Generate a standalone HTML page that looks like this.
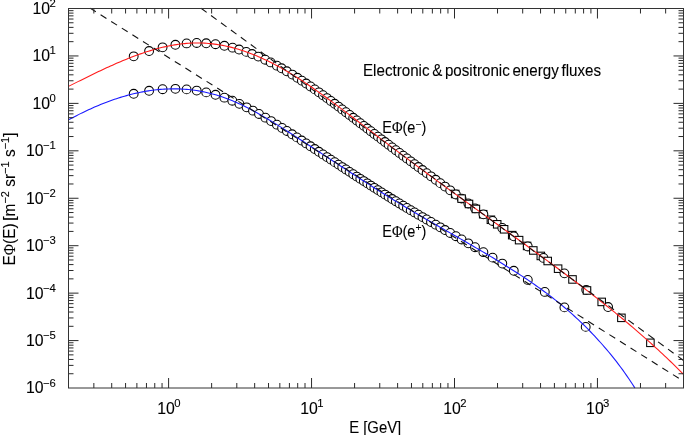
<!DOCTYPE html>
<html><head><meta charset="utf-8"><style>
html,body{margin:0;padding:0;background:#fff;}
svg{display:block;will-change:transform;}
text{font-family:"Liberation Sans",sans-serif;font-size:15.8px;fill:#000;stroke:#000;stroke-width:0.1px;}
</style></head><body>
<svg width="685" height="435" viewBox="0 0 685 435">
<rect x="0" y="0" width="685" height="435" fill="#fff"/>
<g fill="#fff" stroke="#000" stroke-width="1.05">
<circle cx="133.70" cy="93.77" r="4.4"/><circle cx="149.10" cy="90.75" r="4.4"/><circle cx="162.60" cy="89.24" r="4.4"/><circle cx="175.40" cy="88.85" r="4.4"/><circle cx="186.60" cy="89.39" r="4.4"/><circle cx="196.70" cy="90.59" r="4.4"/><circle cx="206.20" cy="92.39" r="4.4"/><circle cx="215.50" cy="94.77" r="4.4"/><circle cx="224.40" cy="97.67" r="4.4"/><circle cx="232.30" cy="100.73" r="4.4"/><circle cx="239.40" cy="103.86" r="4.4"/><circle cx="246.60" cy="107.35" r="4.4"/><circle cx="253.00" cy="110.68" r="4.4"/><circle cx="259.00" cy="113.99" r="4.4"/><circle cx="265.40" cy="117.68" r="4.4"/><circle cx="271.10" cy="121.08" r="4.4"/><circle cx="276.90" cy="124.65" r="4.4"/><circle cx="282.10" cy="127.90" r="4.4"/><circle cx="286.90" cy="130.96" r="4.4"/><circle cx="292.10" cy="134.29" r="4.4"/><circle cx="296.90" cy="137.39" r="4.4"/><circle cx="301.70" cy="140.51" r="4.4"/><circle cx="306.20" cy="143.44" r="4.4"/><circle cx="310.53" cy="146.26" r="4.4"/><circle cx="314.77" cy="149.04" r="4.4"/><circle cx="318.92" cy="151.76" r="4.4"/><circle cx="322.99" cy="154.43" r="4.4"/><circle cx="326.97" cy="157.05" r="4.4"/><circle cx="330.87" cy="159.61" r="4.4"/><circle cx="334.70" cy="162.13" r="4.4"/><circle cx="338.49" cy="164.61" r="4.4"/><circle cx="342.23" cy="167.06" r="4.4"/><circle cx="345.93" cy="169.48" r="4.4"/><circle cx="349.58" cy="171.87" r="4.4"/><circle cx="353.20" cy="174.23" r="4.4"/><circle cx="356.77" cy="176.55" r="4.4"/><circle cx="360.30" cy="178.84" r="4.4"/><circle cx="363.80" cy="181.09" r="4.4"/><circle cx="367.31" cy="183.35" r="4.4"/><circle cx="370.83" cy="185.60" r="4.4"/><circle cx="374.36" cy="187.85" r="4.4"/><circle cx="377.90" cy="190.09" r="4.4"/><circle cx="381.45" cy="192.33" r="4.4"/><circle cx="385.02" cy="194.56" r="4.4"/><circle cx="388.59" cy="196.79" r="4.4"/><circle cx="392.18" cy="199.01" r="4.4"/><circle cx="395.80" cy="201.23" r="4.4"/><circle cx="399.46" cy="203.45" r="4.4"/><circle cx="403.17" cy="205.69" r="4.4"/><circle cx="406.92" cy="207.93" r="4.4"/><circle cx="410.71" cy="210.18" r="4.4"/><circle cx="414.55" cy="212.44" r="4.4"/><circle cx="418.43" cy="214.72" r="4.4"/><circle cx="422.46" cy="217.06" r="4.4"/><circle cx="426.65" cy="219.48" r="4.4"/><circle cx="431.00" cy="221.99" r="4.4"/><circle cx="435.70" cy="224.69" r="4.4"/><circle cx="440.30" cy="227.32" r="4.4"/><circle cx="445.00" cy="230.00" r="4.4"/><circle cx="450.20" cy="232.97" r="4.4"/><circle cx="455.90" cy="236.23" r="4.4"/><circle cx="461.60" cy="239.49" r="4.4"/><circle cx="468.30" cy="243.35" r="4.4"/><circle cx="475.00" cy="247.23" r="4.4"/><circle cx="483.40" cy="252.16" r="4.4"/><circle cx="492.60" cy="257.64" r="4.4"/><circle cx="502.30" cy="263.55" r="4.4"/><circle cx="513.80" cy="270.76" r="4.4"/><circle cx="527.80" cy="279.93" r="4.4"/><circle cx="544.80" cy="291.92" r="4.4"/><circle cx="564.40" cy="307.39" r="4.4"/><circle cx="585.70" cy="326.89" r="4.4"/>
<circle cx="133.70" cy="56.34" r="4.4"/><circle cx="149.10" cy="51.03" r="4.4"/><circle cx="162.60" cy="47.32" r="4.4"/><circle cx="175.40" cy="44.77" r="4.4"/><circle cx="186.60" cy="43.41" r="4.4"/><circle cx="196.70" cy="42.97" r="4.4"/><circle cx="206.20" cy="43.27" r="4.4"/><circle cx="215.50" cy="44.24" r="4.4"/><circle cx="224.40" cy="45.76" r="4.4"/><circle cx="232.60" cy="47.67" r="4.4"/><circle cx="239.10" cy="49.52" r="4.4"/><circle cx="246.30" cy="51.89" r="4.4"/><circle cx="252.10" cy="54.05" r="4.4"/><circle cx="258.30" cy="56.60" r="4.4"/><circle cx="265.20" cy="59.71" r="4.4"/><circle cx="270.70" cy="62.40" r="4.4"/><circle cx="276.90" cy="65.65" r="4.4"/><circle cx="281.60" cy="68.25" r="4.4"/><circle cx="286.80" cy="71.26" r="4.4"/><circle cx="292.30" cy="74.58" r="4.4"/><circle cx="297.40" cy="77.77" r="4.4"/><circle cx="301.90" cy="80.68" r="4.4"/><circle cx="306.20" cy="83.53" r="4.4"/><circle cx="310.53" cy="86.46" r="4.4"/><circle cx="314.77" cy="89.39" r="4.4"/><circle cx="318.92" cy="92.30" r="4.4"/><circle cx="322.99" cy="95.21" r="4.4"/><circle cx="326.97" cy="98.09" r="4.4"/><circle cx="330.87" cy="100.95" r="4.4"/><circle cx="334.70" cy="103.78" r="4.4"/><circle cx="338.49" cy="106.60" r="4.4"/><circle cx="342.23" cy="109.41" r="4.4"/><circle cx="345.93" cy="112.21" r="4.4"/><circle cx="349.58" cy="114.99" r="4.4"/><circle cx="353.20" cy="117.75" r="4.4"/><circle cx="356.77" cy="120.48" r="4.4"/><circle cx="360.30" cy="123.18" r="4.4"/><circle cx="363.80" cy="125.86" r="4.4"/><circle cx="367.31" cy="128.54" r="4.4"/><circle cx="370.83" cy="131.23" r="4.4"/><circle cx="374.36" cy="133.93" r="4.4"/><circle cx="377.90" cy="136.62" r="4.4"/><circle cx="381.45" cy="139.32" r="4.4"/><circle cx="385.02" cy="142.02" r="4.4"/><circle cx="388.59" cy="144.73" r="4.4"/><circle cx="392.18" cy="147.43" r="4.4"/><circle cx="395.80" cy="150.15" r="4.4"/><circle cx="399.46" cy="152.90" r="4.4"/><circle cx="403.17" cy="155.68" r="4.4"/><circle cx="406.92" cy="158.48" r="4.4"/><circle cx="410.71" cy="161.31" r="4.4"/><circle cx="414.55" cy="164.16" r="4.4"/><circle cx="418.43" cy="167.04" r="4.4"/><circle cx="422.46" cy="170.02" r="4.4"/><circle cx="426.65" cy="173.11" r="4.4"/><circle cx="431.00" cy="176.32" r="4.4"/><circle cx="435.70" cy="179.77" r="4.4"/><circle cx="440.30" cy="183.13" r="4.4"/><circle cx="445.00" cy="186.56" r="4.4"/><circle cx="450.20" cy="190.35" r="4.4"/><rect x="451.45" y="190.23" width="7.50" height="7.50"/><circle cx="455.90" cy="194.49" r="4.4"/><circle cx="461.60" cy="198.62" r="4.4"/><rect x="457.85" y="194.87" width="7.50" height="7.50"/><circle cx="468.30" cy="203.47" r="4.4"/><rect x="465.25" y="200.22" width="7.50" height="7.50"/><circle cx="475.00" cy="208.30" r="4.4"/><rect x="472.15" y="205.20" width="7.50" height="7.50"/><rect x="479.45" y="210.47" width="7.50" height="7.50"/><circle cx="483.40" cy="214.36" r="4.4"/><rect x="487.15" y="216.02" width="7.50" height="7.50"/><circle cx="492.60" cy="220.99" r="4.4"/><rect x="493.45" y="220.56" width="7.50" height="7.50"/><circle cx="502.30" cy="227.99" r="4.4"/><rect x="500.35" y="225.54" width="7.50" height="7.50"/><rect x="508.45" y="231.39" width="7.50" height="7.50"/><circle cx="513.80" cy="236.30" r="4.4"/><rect x="515.35" y="236.38" width="7.50" height="7.50"/><rect x="523.35" y="242.19" width="7.50" height="7.50"/><circle cx="527.80" cy="246.45" r="4.4"/><rect x="529.55" y="246.71" width="7.50" height="7.50"/><rect x="537.05" y="252.19" width="7.50" height="7.50"/><circle cx="543.50" cy="257.92" r="4.4"/><rect x="543.95" y="257.25" width="7.50" height="7.50"/><rect x="554.35" y="264.93" width="7.50" height="7.50"/><circle cx="564.40" cy="273.37" r="4.4"/><rect x="568.75" y="275.69" width="7.50" height="7.50"/><circle cx="586.20" cy="289.85" r="4.4"/><rect x="583.25" y="286.71" width="7.50" height="7.50"/><rect x="597.95" y="298.17" width="7.50" height="7.50"/><circle cx="608.10" cy="307.01" r="4.4"/><rect x="617.65" y="314.09" width="7.50" height="7.50"/><rect x="646.65" y="339.08" width="7.50" height="7.50"/>
</g>
<path d="M68.50,86.37 L70.50,85.37 L72.50,84.37 L74.50,83.37 L76.50,82.38 L78.50,81.38 L80.50,80.39 L82.50,79.40 L84.50,78.41 L86.50,77.42 L88.50,76.44 L90.50,75.46 L92.50,74.49 L94.50,73.52 L96.50,72.56 L98.50,71.60 L100.50,70.65 L102.50,69.71 L104.50,68.78 L106.50,67.85 L108.50,66.93 L110.50,66.03 L112.50,65.13 L114.50,64.24 L116.50,63.36 L118.50,62.50 L120.50,61.64 L122.50,60.80 L124.50,59.97 L126.50,59.16 L128.50,58.36 L130.50,57.57 L132.50,56.80 L134.50,56.04 L136.50,55.30 L138.50,54.58 L140.50,53.87 L142.50,53.18 L144.50,52.50 L146.50,51.85 L148.50,51.22 L150.50,50.60 L152.50,50.00 L154.50,49.43 L156.50,48.87 L158.50,48.34 L160.50,47.83 L162.50,47.34 L164.50,46.88 L166.50,46.44 L168.50,46.02 L170.50,45.62 L172.50,45.26 L174.50,44.91 L176.50,44.60 L178.50,44.30 L180.50,44.04 L182.50,43.81 L184.50,43.60 L186.50,43.42 L188.50,43.27 L190.50,43.15 L192.50,43.06 L194.50,43.00 L196.50,42.97 L198.50,42.97 L200.50,43.00 L202.50,43.07 L204.50,43.17 L206.50,43.29 L208.50,43.45 L210.50,43.64 L212.50,43.86 L214.50,44.10 L216.50,44.38 L218.50,44.69 L220.50,45.03 L222.50,45.39 L224.50,45.79 L226.50,46.21 L228.50,46.66 L230.50,47.14 L232.50,47.65 L234.50,48.18 L236.50,48.74 L238.50,49.33 L240.50,49.95 L242.50,50.59 L244.50,51.26 L246.50,51.96 L248.50,52.68 L250.50,53.43 L252.50,54.21 L254.50,55.01 L256.50,55.83 L258.50,56.68 L260.50,57.56 L262.50,58.46 L264.50,59.39 L266.50,60.33 L268.50,61.31 L270.50,62.30 L272.50,63.32 L274.50,64.37 L276.50,65.43 L278.50,66.52 L280.50,67.63 L282.50,68.76 L284.50,69.91 L286.50,71.08 L288.50,72.27 L290.50,73.47 L292.50,74.70 L294.50,75.94 L296.50,77.20 L298.50,78.48 L300.50,79.77 L302.50,81.07 L304.50,82.39 L306.50,83.73 L308.50,85.08 L310.50,86.44 L312.50,87.81 L314.50,89.20 L316.50,90.60 L318.50,92.01 L320.50,93.43 L322.50,94.86 L324.50,96.30 L326.50,97.75 L328.50,99.21 L330.50,100.67 L332.50,102.15 L334.50,103.63 L336.50,105.12 L338.50,106.61 L340.50,108.11 L342.50,109.62 L344.50,111.13 L346.50,112.65 L348.50,114.17 L350.50,115.69 L352.50,117.21 L354.50,118.74 L356.50,120.27 L358.50,121.80 L360.50,123.33 L362.50,124.86 L364.50,126.40 L366.50,127.93 L368.50,129.46 L370.50,130.99 L372.50,132.51 L374.50,134.04 L376.50,135.56 L378.50,137.08 L380.50,138.60 L382.50,140.12 L384.50,141.63 L386.50,143.14 L388.50,144.65 L390.50,146.16 L392.50,147.67 L394.50,149.18 L396.50,150.68 L398.50,152.18 L400.50,153.68 L402.50,155.18 L404.50,156.67 L406.50,158.17 L408.50,159.66 L410.50,161.15 L412.50,162.64 L414.50,164.12 L416.50,165.61 L418.50,167.09 L420.50,168.57 L422.50,170.05 L424.50,171.53 L426.50,173.00 L428.50,174.48 L430.50,175.95 L432.50,177.42 L434.50,178.89 L436.50,180.35 L438.50,181.82 L440.50,183.28 L442.50,184.74 L444.50,186.20 L446.50,187.66 L448.50,189.11 L450.50,190.57 L452.50,192.02 L454.50,193.47 L456.50,194.93 L458.50,196.38 L460.50,197.82 L462.50,199.27 L464.50,200.72 L466.50,202.17 L468.50,203.61 L470.50,205.06 L472.50,206.50 L474.50,207.94 L476.50,209.39 L478.50,210.83 L480.50,212.27 L482.50,213.71 L484.50,215.16 L486.50,216.60 L488.50,218.04 L490.50,219.48 L492.50,220.92 L494.50,222.36 L496.50,223.81 L498.50,225.25 L500.50,226.69 L502.50,228.13 L504.50,229.58 L506.50,231.02 L508.50,232.46 L510.50,233.91 L512.50,235.36 L514.50,236.80 L516.50,238.25 L518.50,239.70 L520.50,241.15 L522.50,242.60 L524.50,244.05 L526.50,245.50 L528.50,246.96 L530.50,248.41 L532.50,249.87 L534.50,251.33 L536.50,252.79 L538.50,254.25 L540.50,255.72 L542.50,257.18 L544.50,258.65 L546.50,260.12 L548.50,261.59 L550.50,263.06 L552.50,264.54 L554.50,266.02 L556.50,267.50 L558.50,268.98 L560.50,270.46 L562.50,271.95 L564.50,273.44 L566.50,274.94 L568.50,276.43 L570.50,277.93 L572.50,279.44 L574.50,280.94 L576.50,282.45 L578.50,283.97 L580.50,285.49 L582.50,287.01 L584.50,288.54 L586.50,290.08 L588.50,291.62 L590.50,293.16 L592.50,294.71 L594.50,296.27 L596.50,297.83 L598.50,299.40 L600.50,300.97 L602.50,302.55 L604.50,304.14 L606.50,305.73 L608.50,307.33 L610.50,308.94 L612.50,310.56 L614.50,312.18 L616.50,313.81 L618.50,315.45 L620.50,317.10 L622.50,318.75 L624.50,320.42 L626.50,322.09 L628.50,323.77 L630.50,325.46 L632.50,327.17 L634.50,328.88 L636.50,330.60 L638.50,332.33 L640.50,334.07 L642.50,335.82 L644.50,337.58 L646.50,339.35 L648.50,341.13 L650.50,342.92 L652.50,344.73 L654.50,346.54 L656.50,348.37 L658.50,350.21 L660.50,352.06 L662.50,353.93 L664.50,355.80 L666.50,357.69 L668.50,359.60 L670.50,361.51 L672.50,363.44 L674.50,365.38 L676.50,367.34 L678.50,369.30 L680.50,371.29 L682.50,373.28 L683.50,374.29" fill="none" stroke="#ff1a1a" stroke-width="1.1"/>
<path d="M68.50,119.88 L70.50,118.79 L72.50,117.73 L74.50,116.68 L76.50,115.65 L78.50,114.63 L80.50,113.63 L82.50,112.65 L84.50,111.68 L86.50,110.73 L88.50,109.80 L90.50,108.88 L92.50,107.99 L94.50,107.11 L96.50,106.25 L98.50,105.40 L100.50,104.58 L102.50,103.77 L104.50,102.99 L106.50,102.22 L108.50,101.47 L110.50,100.74 L112.50,100.03 L114.50,99.34 L116.50,98.67 L118.50,98.02 L120.50,97.39 L122.50,96.78 L124.50,96.20 L126.50,95.63 L128.50,95.08 L130.50,94.56 L132.50,94.06 L134.50,93.58 L136.50,93.12 L138.50,92.68 L140.50,92.27 L142.50,91.88 L144.50,91.51 L146.50,91.16 L148.50,90.84 L150.50,90.54 L152.50,90.26 L154.50,90.01 L156.50,89.79 L158.50,89.58 L160.50,89.40 L162.50,89.25 L164.50,89.12 L166.50,89.01 L168.50,88.93 L170.50,88.88 L172.50,88.85 L174.50,88.85 L176.50,88.87 L178.50,88.92 L180.50,88.99 L182.50,89.09 L184.50,89.22 L186.50,89.38 L188.50,89.56 L190.50,89.77 L192.50,90.01 L194.50,90.27 L196.50,90.56 L198.50,90.88 L200.50,91.23 L202.50,91.61 L204.50,92.02 L206.50,92.45 L208.50,92.92 L210.50,93.41 L212.50,93.93 L214.50,94.49 L216.50,95.07 L218.50,95.68 L220.50,96.32 L222.50,97.00 L224.50,97.70 L226.50,98.44 L228.50,99.20 L230.50,100.00 L232.50,100.82 L234.50,101.67 L236.50,102.54 L238.50,103.45 L240.50,104.37 L242.50,105.32 L244.50,106.30 L246.50,107.30 L248.50,108.32 L250.50,109.35 L252.50,110.41 L254.50,111.49 L256.50,112.59 L258.50,113.71 L260.50,114.84 L262.50,115.99 L264.50,117.15 L266.50,118.33 L268.50,119.52 L270.50,120.72 L272.50,121.93 L274.50,123.16 L276.50,124.40 L278.50,125.64 L280.50,126.90 L282.50,128.16 L284.50,129.43 L286.50,130.70 L288.50,131.98 L290.50,133.26 L292.50,134.55 L294.50,135.84 L296.50,137.13 L298.50,138.43 L300.50,139.73 L302.50,141.03 L304.50,142.33 L306.50,143.63 L308.50,144.94 L310.50,146.25 L312.50,147.56 L314.50,148.87 L316.50,150.18 L318.50,151.49 L320.50,152.80 L322.50,154.11 L324.50,155.43 L326.50,156.74 L328.50,158.06 L330.50,159.37 L332.50,160.68 L334.50,162.00 L336.50,163.31 L338.50,164.62 L340.50,165.93 L342.50,167.24 L344.50,168.55 L346.50,169.86 L348.50,171.17 L350.50,172.47 L352.50,173.77 L354.50,175.07 L356.50,176.37 L358.50,177.67 L360.50,178.96 L362.50,180.25 L364.50,181.54 L366.50,182.83 L368.50,184.11 L370.50,185.39 L372.50,186.67 L374.50,187.94 L376.50,189.21 L378.50,190.47 L380.50,191.73 L382.50,192.99 L384.50,194.24 L386.50,195.49 L388.50,196.73 L390.50,197.97 L392.50,199.20 L394.50,200.43 L396.50,201.65 L398.50,202.87 L400.50,204.08 L402.50,205.29 L404.50,206.49 L406.50,207.68 L408.50,208.87 L410.50,210.06 L412.50,211.24 L414.50,212.41 L416.50,213.59 L418.50,214.76 L420.50,215.92 L422.50,217.08 L424.50,218.24 L426.50,219.40 L428.50,220.55 L430.50,221.70 L432.50,222.85 L434.50,224.00 L436.50,225.15 L438.50,226.29 L440.50,227.43 L442.50,228.58 L444.50,229.72 L446.50,230.86 L448.50,232.00 L450.50,233.14 L452.50,234.29 L454.50,235.43 L456.50,236.57 L458.50,237.72 L460.50,238.86 L462.50,240.01 L464.50,241.16 L466.50,242.31 L468.50,243.47 L470.50,244.62 L472.50,245.78 L474.50,246.94 L476.50,248.11 L478.50,249.28 L480.50,250.45 L482.50,251.63 L484.50,252.81 L486.50,254.00 L488.50,255.19 L490.50,256.38 L492.50,257.58 L494.50,258.79 L496.50,260.00 L498.50,261.22 L500.50,262.44 L502.50,263.68 L504.50,264.91 L506.50,266.16 L508.50,267.41 L510.50,268.67 L512.50,269.94 L514.50,271.21 L516.50,272.49 L518.50,273.79 L520.50,275.09 L522.50,276.40 L524.50,277.72 L526.50,279.06 L528.50,280.40 L530.50,281.76 L532.50,283.14 L534.50,284.52 L536.50,285.93 L538.50,287.34 L540.50,288.78 L542.50,290.23 L544.50,291.70 L546.50,293.18 L548.50,294.69 L550.50,296.21 L552.50,297.75 L554.50,299.32 L556.50,300.90 L558.50,302.51 L560.50,304.14 L562.50,305.80 L564.50,307.47 L566.50,309.18 L568.50,310.90 L570.50,312.66 L572.50,314.44 L574.50,316.24 L576.50,318.08 L578.50,319.94 L580.50,321.83 L582.50,323.76 L584.50,325.71 L586.50,327.69 L588.50,329.71 L590.50,331.75 L592.50,333.83 L594.50,335.95 L596.50,338.10 L598.50,340.28 L600.50,342.50 L602.50,344.75 L604.50,347.05 L606.50,349.38 L608.50,351.75 L610.50,354.16 L612.50,356.62 L614.50,359.13 L616.50,361.69 L618.50,364.30 L620.50,366.97 L622.50,369.69 L624.50,372.48 L626.50,375.32 L628.50,378.24 L630.50,381.22 L632.50,384.27 L634.50,387.40 L634.88,388.00" fill="none" stroke="#1a1aff" stroke-width="1.1"/>
<g fill="none" stroke="#111" stroke-width="1.1">
<path d="M90,8.1 L683.5,381.23" stroke-dasharray="6.9 5.62"/>
<path d="M201.1,8.3 L683.5,360.45" stroke-dasharray="6.9 5.4"/>
</g>
<path d="M93.85,388.0V383.0M93.85,8.5V13.5M111.71,388.0V383.0M111.71,8.5V13.5M125.57,388.0V383.0M125.57,8.5V13.5M136.89,388.0V383.0M136.89,8.5V13.5M146.46,388.0V383.0M146.46,8.5V13.5M154.75,388.0V383.0M154.75,8.5V13.5M162.06,388.0V383.0M162.06,8.5V13.5M168.60,388.0V378.0M168.60,8.5V18.5M211.63,388.0V383.0M211.63,8.5V13.5M236.80,388.0V383.0M236.80,8.5V13.5M254.66,388.0V383.0M254.66,8.5V13.5M268.52,388.0V383.0M268.52,8.5V13.5M279.84,388.0V383.0M279.84,8.5V13.5M289.41,388.0V383.0M289.41,8.5V13.5M297.70,388.0V383.0M297.70,8.5V13.5M305.01,388.0V383.0M305.01,8.5V13.5M311.55,388.0V378.0M311.55,8.5V18.5M354.58,388.0V383.0M354.58,8.5V13.5M379.75,388.0V383.0M379.75,8.5V13.5M397.61,388.0V383.0M397.61,8.5V13.5M411.47,388.0V383.0M411.47,8.5V13.5M422.79,388.0V383.0M422.79,8.5V13.5M432.36,388.0V383.0M432.36,8.5V13.5M440.65,388.0V383.0M440.65,8.5V13.5M447.96,388.0V383.0M447.96,8.5V13.5M454.50,388.0V378.0M454.50,8.5V18.5M497.53,388.0V383.0M497.53,8.5V13.5M522.70,388.0V383.0M522.70,8.5V13.5M540.56,388.0V383.0M540.56,8.5V13.5M554.42,388.0V383.0M554.42,8.5V13.5M565.74,388.0V383.0M565.74,8.5V13.5M575.31,388.0V383.0M575.31,8.5V13.5M583.60,388.0V383.0M583.60,8.5V13.5M590.91,388.0V383.0M590.91,8.5V13.5M597.45,388.0V378.0M597.45,8.5V18.5M640.48,388.0V383.0M640.48,8.5V13.5M665.65,388.0V383.0M665.65,8.5V13.5M68.5,373.74H73.5M683.5,373.74H678.5M68.5,365.39H73.5M683.5,365.39H678.5M68.5,359.46H73.5M683.5,359.46H678.5M68.5,354.86H73.5M683.5,354.86H678.5M68.5,351.10H73.5M683.5,351.10H678.5M68.5,347.93H73.5M683.5,347.93H678.5M68.5,345.18H73.5M683.5,345.18H678.5M68.5,342.75H73.5M683.5,342.75H678.5M68.5,340.58H78.5M683.5,340.58H673.5M68.5,326.30H73.5M683.5,326.30H678.5M68.5,317.95H73.5M683.5,317.95H678.5M68.5,312.02H73.5M683.5,312.02H678.5M68.5,307.42H73.5M683.5,307.42H678.5M68.5,303.66H73.5M683.5,303.66H678.5M68.5,300.49H73.5M683.5,300.49H678.5M68.5,297.74H73.5M683.5,297.74H678.5M68.5,295.31H73.5M683.5,295.31H678.5M68.5,293.14H78.5M683.5,293.14H673.5M68.5,278.86H73.5M683.5,278.86H678.5M68.5,270.51H73.5M683.5,270.51H678.5M68.5,264.58H73.5M683.5,264.58H678.5M68.5,259.98H73.5M683.5,259.98H678.5M68.5,256.22H73.5M683.5,256.22H678.5M68.5,253.05H73.5M683.5,253.05H678.5M68.5,250.30H73.5M683.5,250.30H678.5M68.5,247.87H73.5M683.5,247.87H678.5M68.5,245.70H78.5M683.5,245.70H673.5M68.5,231.42H73.5M683.5,231.42H678.5M68.5,223.07H73.5M683.5,223.07H678.5M68.5,217.14H73.5M683.5,217.14H678.5M68.5,212.54H73.5M683.5,212.54H678.5M68.5,208.78H73.5M683.5,208.78H678.5M68.5,205.61H73.5M683.5,205.61H678.5M68.5,202.86H73.5M683.5,202.86H678.5M68.5,200.43H73.5M683.5,200.43H678.5M68.5,198.26H78.5M683.5,198.26H673.5M68.5,183.98H73.5M683.5,183.98H678.5M68.5,175.63H73.5M683.5,175.63H678.5M68.5,169.70H73.5M683.5,169.70H678.5M68.5,165.10H73.5M683.5,165.10H678.5M68.5,161.34H73.5M683.5,161.34H678.5M68.5,158.17H73.5M683.5,158.17H678.5M68.5,155.42H73.5M683.5,155.42H678.5M68.5,152.99H73.5M683.5,152.99H678.5M68.5,150.82H78.5M683.5,150.82H673.5M68.5,136.54H73.5M683.5,136.54H678.5M68.5,128.19H73.5M683.5,128.19H678.5M68.5,122.26H73.5M683.5,122.26H678.5M68.5,117.66H73.5M683.5,117.66H678.5M68.5,113.90H73.5M683.5,113.90H678.5M68.5,110.73H73.5M683.5,110.73H678.5M68.5,107.98H73.5M683.5,107.98H678.5M68.5,105.55H73.5M683.5,105.55H678.5M68.5,103.38H78.5M683.5,103.38H673.5M68.5,89.10H73.5M683.5,89.10H678.5M68.5,80.75H73.5M683.5,80.75H678.5M68.5,74.82H73.5M683.5,74.82H678.5M68.5,70.22H73.5M683.5,70.22H678.5M68.5,66.46H73.5M683.5,66.46H678.5M68.5,63.29H73.5M683.5,63.29H678.5M68.5,60.54H73.5M683.5,60.54H678.5M68.5,58.11H73.5M683.5,58.11H678.5M68.5,55.94H78.5M683.5,55.94H673.5M68.5,41.66H73.5M683.5,41.66H678.5M68.5,33.31H73.5M683.5,33.31H678.5M68.5,27.38H73.5M683.5,27.38H678.5M68.5,22.78H73.5M683.5,22.78H678.5M68.5,19.02H73.5M683.5,19.02H678.5M68.5,15.85H73.5M683.5,15.85H678.5M68.5,13.10H73.5M683.5,13.10H678.5M68.5,10.67H73.5M683.5,10.67H678.5" fill="none" stroke="#2a2a2a" stroke-width="1"/>
<rect x="68.5" y="8.5" width="615.0" height="379.5" fill="none" stroke="#333" stroke-width="1"/>
<text x="55.8" y="393.42" text-anchor="end">10<tspan dx="-0.6" dy="-6.9" font-size="11.3">−6</tspan></text><text x="55.8" y="345.98" text-anchor="end">10<tspan dx="-0.6" dy="-6.9" font-size="11.3">−5</tspan></text><text x="55.8" y="298.54" text-anchor="end">10<tspan dx="-0.6" dy="-6.9" font-size="11.3">−4</tspan></text><text x="55.8" y="251.10" text-anchor="end">10<tspan dx="-0.6" dy="-6.9" font-size="11.3">−3</tspan></text><text x="55.8" y="203.66" text-anchor="end">10<tspan dx="-0.6" dy="-6.9" font-size="11.3">−2</tspan></text><text x="55.8" y="156.22" text-anchor="end">10<tspan dx="-0.6" dy="-6.9" font-size="11.3">−1</tspan></text><text x="55.8" y="108.78" text-anchor="end">10<tspan dx="-0.6" dy="-6.9" font-size="11.3">0</tspan></text><text x="55.8" y="61.34" text-anchor="end">10<tspan dx="-0.6" dy="-6.9" font-size="11.3">1</tspan></text><text x="55.8" y="13.90" text-anchor="end">10<tspan dx="-0.6" dy="-6.9" font-size="11.3">2</tspan></text>
<text x="168.90" y="413.9" text-anchor="middle">10<tspan dx="-0.6" dy="-7" font-size="11.3">0</tspan></text><text x="311.85" y="413.9" text-anchor="middle">10<tspan dx="-0.6" dy="-7" font-size="11.3">1</tspan></text><text x="454.80" y="413.9" text-anchor="middle">10<tspan dx="-0.6" dy="-7" font-size="11.3">2</tspan></text><text x="597.75" y="413.9" text-anchor="middle">10<tspan dx="-0.6" dy="-7" font-size="11.3">3</tspan></text>
<text x="375.2" y="432.6" text-anchor="middle" textLength="52" lengthAdjust="spacingAndGlyphs">E [GeV]</text>
<text transform="translate(15.2,265.5) rotate(-90)" textLength="133" lengthAdjust="spacingAndGlyphs">E<tspan font-family="Liberation Serif">Φ</tspan>(E)<tspan dx="-1.6"> [m</tspan><tspan dy="-6.1" font-size="11.3">−2</tspan><tspan dy="6.1"> sr</tspan><tspan dy="-6.1" font-size="11.3">−1</tspan><tspan dy="6.1"> s</tspan><tspan dy="-6.1" font-size="11.3">−1</tspan><tspan dy="6.1">]</tspan></text>
<text x="363" y="75.5" textLength="238" lengthAdjust="spacingAndGlyphs" word-spacing="-1.6">Electronic &amp; positronic energy fluxes</text>
<text x="382.3" y="133.1" textLength="44" lengthAdjust="spacingAndGlyphs">E<tspan font-family="Liberation Serif">Φ</tspan>(e<tspan dy="-5.5" font-size="11.3">−</tspan><tspan dy="5.5">)</tspan></text>
<text x="382.3" y="236.6" textLength="44" lengthAdjust="spacingAndGlyphs">E<tspan font-family="Liberation Serif">Φ</tspan>(e<tspan dy="-5.5" font-size="11.3">+</tspan><tspan dy="5.5">)</tspan></text>
</svg>
</body></html>
